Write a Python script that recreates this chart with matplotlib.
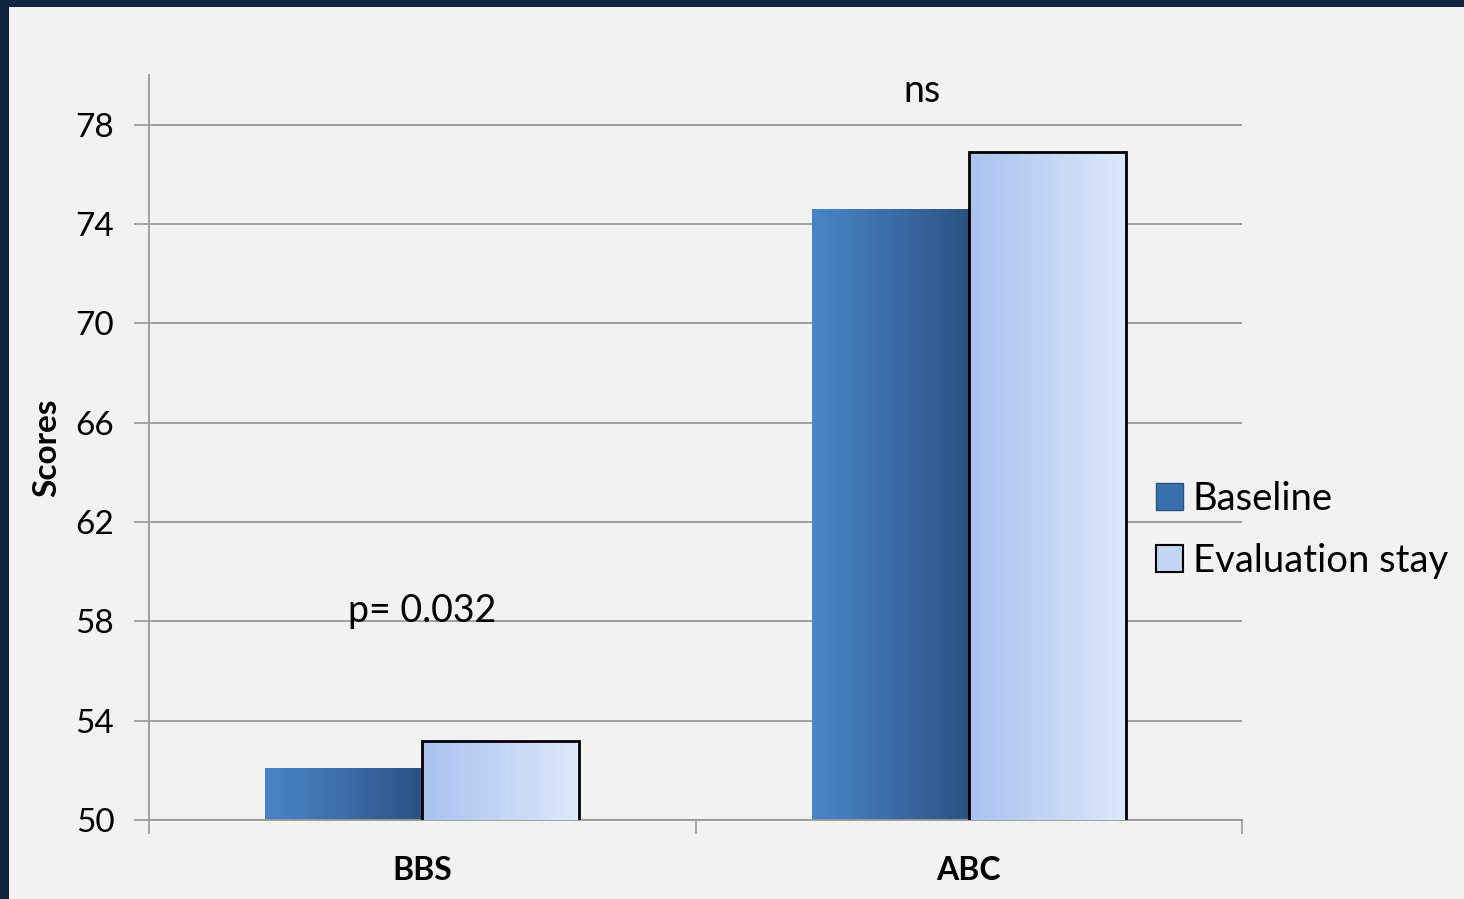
import numpy as np
import matplotlib.pyplot as plt
from matplotlib.colors import LinearSegmentedColormap
from matplotlib.patches import Patch

# Données
categories = ["BBS", "ABC"]
baseline = [52.1, 74.6]
evaluation = [53.2, 76.9]
annotations = ["p= 0.032", "ns"]
annot_x = [0.0, 0.915]
annot_y = [58.4, 79.35]
yticks = [50, 54, 58, 62, 66, 70, 74, 78]

plt.rcParams['font.family'] = ['Lato', 'DejaVu Sans']

bg = "#f2f2f2"
fig = plt.figure(figsize=(14.64, 8.99), dpi=100, facecolor="#10233f")
# fond clair (bordure sombre en haut et à gauche)
fig.patches.append(plt.Rectangle((9 / 1464, 0), 1, 1 - 7 / 899,
                                 transform=fig.transFigure, facecolor=bg,
                                 edgecolor="none", zorder=-5))

ax = fig.add_axes([149 / 1464, 1 - 820 / 899, (1242 - 149) / 1464, (820 - 75) / 899])
ax.set_facecolor(bg)

x = np.arange(len(categories))
w = 0.287
b1 = ax.bar(x - w / 2, baseline, w, color="#3a6fae", zorder=2)
b2 = ax.bar(x + w / 2, evaluation, w, color="#c4d5f5", edgecolor="black",
            linewidth=2, zorder=3)

cm1 = LinearSegmentedColormap.from_list("b1", ["#4a85c6", "#3b6eaa", "#2b5283"])
cm2 = LinearSegmentedColormap.from_list("b2", ["#aac2ee", "#c3d5f6", "#dfe9fb"])
grad = np.linspace(0, 1, 256).reshape(1, -1)
for bars, cm, z in ((b1, cm1, 1.8), (b2, cm2, 2.8)):
    for r in bars:
        x0 = r.get_x()
        im = ax.imshow(grad, cmap=cm, aspect="auto",
                       extent=(x0, x0 + r.get_width(), 50, r.get_height()),
                       zorder=z, interpolation="bicubic")
        im.set_clip_path(r)
        r.set_facecolor("none")
ax.set_xlim(-0.5, 1.5)
ax.set_ylim(50, 80)

ax.set_yticks(yticks)
ax.tick_params(axis="y", labelsize=24, length=11, width=1.2, color="#999999", pad=14)
ax.set_xticks([-0.5, 0.5, 1.5], minor=False)
ax.set_xticklabels([])
ax.set_xticks(x, minor=True)
ax.set_xticklabels(categories, minor=True, fontsize=23, fontweight="bold")
ax.tick_params(axis="x", which="major", length=10, width=1.2, color="#999999")
ax.tick_params(axis="x", which="minor", length=0, pad=26)
ax.grid(axis="y", color="#999999", linewidth=1.3, zorder=0)
ax.set_axisbelow(True)
for s in ("top", "right"):
    ax.spines[s].set_visible(False)
for s in ("left", "bottom"):
    ax.spines[s].set_color("#999999")
    ax.spines[s].set_linewidth(1.3)

ax.set_ylabel("Scores", fontsize=24, fontweight="bold", labelpad=10)

for xi, txt, yv in zip(annot_x, annotations, annot_y):
    ax.text(xi, yv, txt, fontsize=27, ha="center", va="center")

handles = [Patch(facecolor="#3a6fae", edgecolor="#2b5283"),
           Patch(facecolor="#c4d5f5", edgecolor="black", linewidth=1.5)]
fig.legend(handles, ["Baseline", "Evaluation stay"], loc="center left",
           bbox_to_anchor=(1122 / 1464, 1 - 530 / 899), frameon=False,
           fontsize=27.5, handlelength=0.7, handleheight=0.7, handletextpad=0.25,
           labelspacing=0.68)

fig.savefig("out.png", dpi=100, facecolor=fig.get_facecolor())
